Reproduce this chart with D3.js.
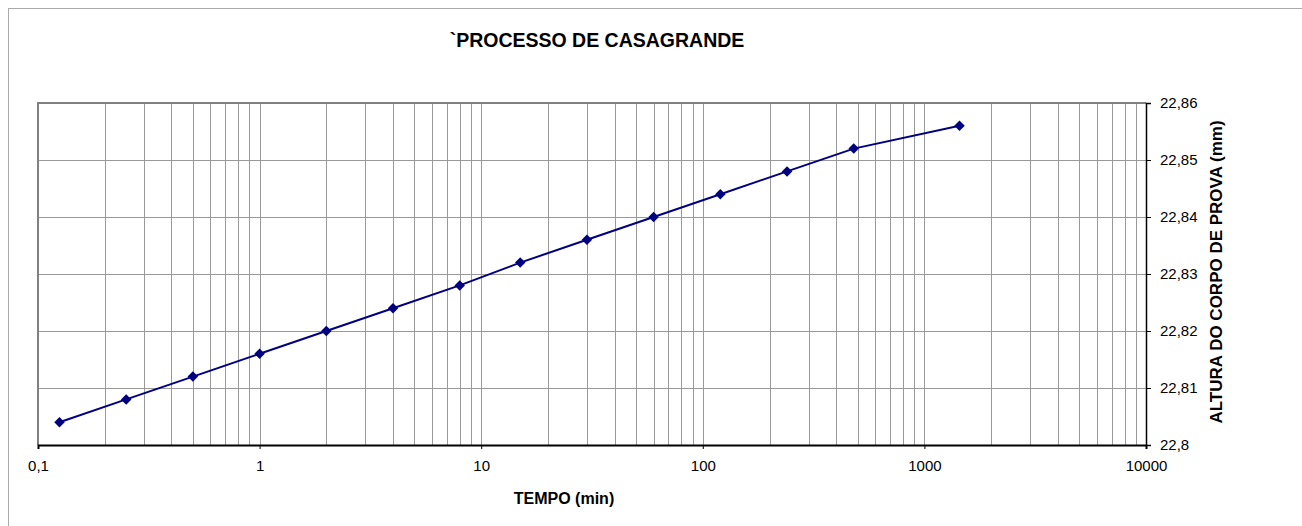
<!DOCTYPE html>
<html>
<head>
<meta charset="utf-8">
<script src="https://cdn.jsdelivr.net/npm/d3@7"></script>
<style>
    html, body { margin: 0; padding: 0; background: #fff; }
    svg { display: block; font-family: 'Liberation Sans', Arial, sans-serif; }
</style>
</head>
<body>
<div id="chart"></div>
<script>
'use strict';

// Time (min) and specimen height (mm).
var tempo  = [0.125, 0.25, 0.5, 1, 2, 4, 8, 15, 30, 60, 120, 240, 480, 1440];
var altura = [22.804, 22.808, 22.812, 22.816, 22.820, 22.824, 22.828, 22.832, 22.836, 22.840, 22.844, 22.848, 22.852, 22.856];

var xTicks = [0.1, 1, 10, 100, 1000, 10000];
var yTicks = [22.80, 22.81, 22.82, 22.83, 22.84, 22.85, 22.86];

var width  = 1302,
    height = 526,
    margin = {top: 103, right: 156, bottom: 81, left: 38},
    innerW = width - margin.left - margin.right,
    innerH = height - margin.top - margin.bottom;

var svg = d3.select('#chart').append('svg')
    .attr('width', width)
    .attr('height', height);

// Outer chart frame (right and bottom sit outside the window).
svg.append('rect')
    .attr('x', 8.5)
    .attr('y', 8.5)
    .attr('width', width + 20)
    .attr('height', height + 20)
    .attr('fill', 'none')
    .attr('stroke', '#aaa')
    .attr('stroke-width', 1);

svg.append('text')
    .attr('x', 597)
    .attr('y', 47)
    .attr('text-anchor', 'middle')
    .style('font-size', '19.5px')
    .style('font-weight', 'bold')
    .text('`PROCESSO DE CASAGRANDE');

var x = d3.scaleLog()
    .domain([0.1, 10000])
    .range([0, innerW]);

var y = d3.scaleLinear()
    .domain([22.80, 22.86])
    .range([innerH, 0]);

var g = svg.append('g')
    .attr('transform', 'translate(' + margin.left + ',' + margin.top + ')');

// Grid: every log minor step vertically, every tick horizontally.
var minor = [];
xTicks.slice(0, -1).forEach(function (d) {
    for (var k = 1; k < 10; k++) {
        minor.push(d * k);
    }
});

g.append('g')
    .selectAll('line')
    .data(minor)
    .enter().append('line')
    .attr('x1', function (d) { return Math.round(x(d)) + 0.5; })
    .attr('x2', function (d) { return Math.round(x(d)) + 0.5; })
    .attr('y1', 0)
    .attr('y2', innerH)
    .attr('stroke', '#9a9a9a')
    .attr('stroke-width', 1);

g.append('g')
    .selectAll('line')
    .data(yTicks)
    .enter().append('line')
    .attr('x1', 0)
    .attr('x2', innerW)
    .attr('y1', function (d) { return Math.round(y(d)) + 0.5; })
    .attr('y2', function (d) { return Math.round(y(d)) + 0.5; })
    .attr('stroke', '#9a9a9a')
    .attr('stroke-width', 1);

// Plot area border (grey on top and left).
g.append('path')
    .attr('d', 'M0,' + innerH + 'V0H' + innerW)
    .attr('fill', 'none')
    .attr('stroke', '#808080')
    .attr('stroke-width', 2);

// Bottom axis.
var xAxis = g.append('g')
    .attr('transform', 'translate(0,' + innerH + ')')
    .call(d3.axisBottom(x)
        .tickValues(xTicks)
        .tickSize(4)
        .tickFormat(function (d) { return String(d).replace('.', ','); }));

xAxis.select('.domain').attr('stroke', '#000').attr('stroke-width', 2);
xAxis.selectAll('.tick line').attr('stroke', '#000');
xAxis.selectAll('text')
    .attr('dy', '0')
    .attr('y', 26)
    .style('font-size', '15px')
    .attr('fill', '#000');

// Right axis.
var yAxis = g.append('g')
    .attr('transform', 'translate(' + innerW + ',0)')
    .call(d3.axisRight(y)
        .tickValues(yTicks)
        .tickSize(5)
        .tickPadding(9)
        .tickFormat(function (d) { return d3.format('.2~f')(d).replace('.', ','); }));

yAxis.select('.domain').attr('stroke', '#000').attr('stroke-width', 1.5);
yAxis.selectAll('.tick line').attr('stroke', '#000');
yAxis.selectAll('text')
    .style('font-size', '15px')
    .attr('fill', '#000');

svg.append('text')
    .attr('x', 564)
    .attr('y', 504)
    .attr('text-anchor', 'middle')
    .style('font-size', '16px')
    .style('font-weight', 'bold')
    .text('TEMPO (min)');

svg.append('text')
    .attr('transform', 'translate(1222,272) rotate(-90)')
    .attr('text-anchor', 'middle')
    .style('font-size', '17px')
    .style('font-weight', 'bold')
    .text('ALTURA DO CORPO DE PROVA (mm)');

// Series line and diamond markers.
var points = tempo.map(function (t, i) {
    return {t: t, h: altura[i]};
});

g.append('path')
    .datum(points)
    .attr('d', d3.line()
        .x(function (d) { return x(d.t); })
        .y(function (d) { return y(d.h); }))
    .attr('fill', 'none')
    .attr('stroke', '#000080')
    .attr('stroke-width', 2);

g.selectAll('.marker')
    .data(points)
    .enter().append('path')
    .attr('class', 'marker')
    .attr('d', d3.symbol().type(d3.symbolDiamond2).size(70))
    .attr('transform', function (d) {
        return 'translate(' + x(d.t) + ',' + y(d.h) + ')';
    })
    .attr('fill', '#000080');
</script>
</body>
</html>
